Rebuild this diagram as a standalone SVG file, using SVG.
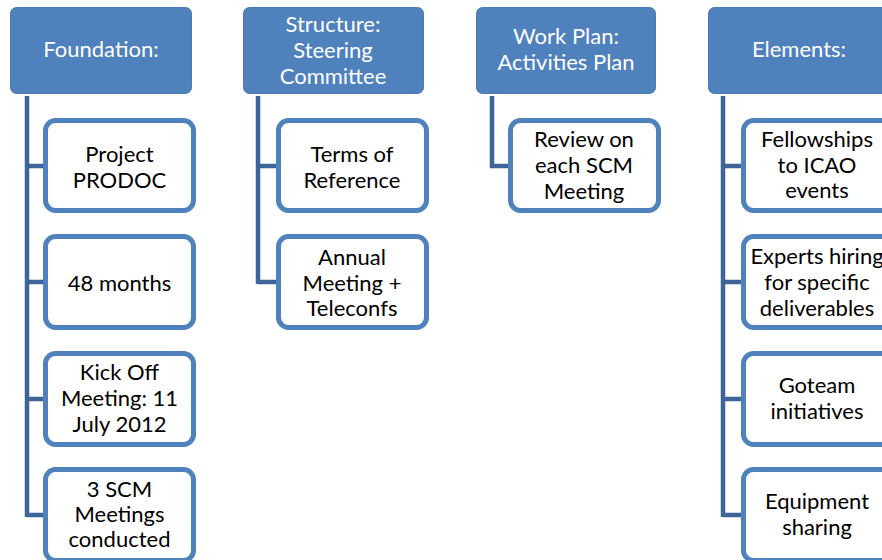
<svg xmlns="http://www.w3.org/2000/svg" width="882" height="560" viewBox="0 0 882 560">
<style>
.hdr{fill:#4f81bd;stroke:#4a7ab5;stroke-width:1}
.box{fill:#ffffff;stroke:#4f81bd;stroke-width:5}
.ht{font-family:Lato,"Liberation Sans",sans-serif;font-size:22px;fill:#ffffff;text-anchor:middle}
.bt{font-family:Lato,"Liberation Sans",sans-serif;font-size:22px;fill:#000000;text-anchor:middle}
.con{fill:none;stroke:#3d6598;stroke-width:4.5}
</style>
<rect width="882" height="560" fill="#ffffff"/>
<g id="connectors">
<path class="con" d="M27,96 V517 M27,166 H44 M27,282 H44 M27,399 H44 M27,515 H44"/>
<path class="con" d="M258,96 V284 M258,166 H277 M258,282 H277"/>
<path class="con" d="M492,96 V166 H509"/>
<path class="con" d="M723,96 V517 M723,166 H742 M723,282 H742 M723,399 H742 M723,515 H742"/>
</g>
<g id="foundation">
<rect class="hdr" x="10.5" y="7.5" width="181" height="86" rx="6"/>
<text class="ht" x="101" y="57">Foundation:</text>
</g>
<g id="project-prodoc">
<rect class="box" x="45.5" y="120.5" width="148" height="90" rx="10"/>
<text class="bt" x="119.5" y="162">Project</text>
<text class="bt" x="119.5" y="188">PRODOC</text>
</g>
<g id="months">
<rect class="box" x="45.5" y="236.5" width="148" height="91" rx="10"/>
<text class="bt" x="119.5" y="291">48 months</text>
</g>
<g id="kickoff">
<rect class="box" x="45.5" y="353.5" width="148" height="91" rx="10"/>
<text class="bt" x="119.5" y="380">Kick Off</text>
<text class="bt" x="119.5" y="406">Meeting: 11</text>
<text class="bt" x="119.5" y="432">July 2012</text>
</g>
<g id="scm-meetings">
<rect class="box" x="45.5" y="469.5" width="148" height="91" rx="10"/>
<text class="bt" x="119.5" y="497">3 SCM</text>
<text class="bt" x="119.5" y="522">Meetings</text>
<text class="bt" x="119.5" y="547">conducted</text>
</g>
<g id="structure">
<rect class="hdr" x="243.5" y="7.5" width="180" height="86" rx="6"/>
<text class="ht" x="333" y="32">Structure:</text>
<text class="ht" x="333" y="58">Steering</text>
<text class="ht" x="333" y="84">Committee</text>
</g>
<g id="terms">
<rect class="box" x="278.5" y="120.5" width="148" height="90" rx="10"/>
<text class="bt" x="352" y="162">Terms of</text>
<text class="bt" x="352" y="188">Reference</text>
</g>
<g id="annual">
<rect class="box" x="278.5" y="236.5" width="148" height="91" rx="10"/>
<text class="bt" x="352" y="265">Annual</text>
<text class="bt" x="352" y="291">Meeting +</text>
<text class="bt" x="352" y="316">Teleconfs</text>
</g>
<g id="workplan">
<rect class="hdr" x="476.5" y="7.5" width="179" height="86" rx="6"/>
<text class="ht" x="566" y="44">Work Plan:</text>
<text class="ht" x="566" y="70">Activities Plan</text>
</g>
<g id="review">
<rect class="box" x="510.5" y="120.5" width="148" height="90" rx="10"/>
<text class="bt" x="584" y="147">Review on</text>
<text class="bt" x="584" y="173">each SCM</text>
<text class="bt" x="584" y="199">Meeting</text>
</g>
<g id="elements">
<rect class="hdr" x="708.5" y="7.5" width="181" height="86" rx="6"/>
<text class="ht" x="799" y="57">Elements:</text>
</g>
<g id="fellowships">
<rect class="box" x="743.5" y="120.5" width="148" height="90" rx="10"/>
<text class="bt" x="817" y="147">Fellowships</text>
<text class="bt" x="817" y="173">to ICAO</text>
<text class="bt" x="817" y="198">events</text>
</g>
<g id="experts">
<rect class="box" x="743.5" y="236.5" width="148" height="91" rx="10"/>
<text class="bt" x="817" y="264">Experts hiring</text>
<text class="bt" x="817" y="290">for specific</text>
<text class="bt" x="817" y="316">deliverables</text>
</g>
<g id="goteam">
<rect class="box" x="743.5" y="353.5" width="148" height="91" rx="10"/>
<text class="bt" x="817" y="393">Goteam</text>
<text class="bt" x="817" y="419">initiatives</text>
</g>
<g id="equipment">
<rect class="box" x="743.5" y="469.5" width="148" height="91" rx="10"/>
<text class="bt" x="817" y="509">Equipment</text>
<text class="bt" x="817" y="535">sharing</text>
</g>
</svg>
